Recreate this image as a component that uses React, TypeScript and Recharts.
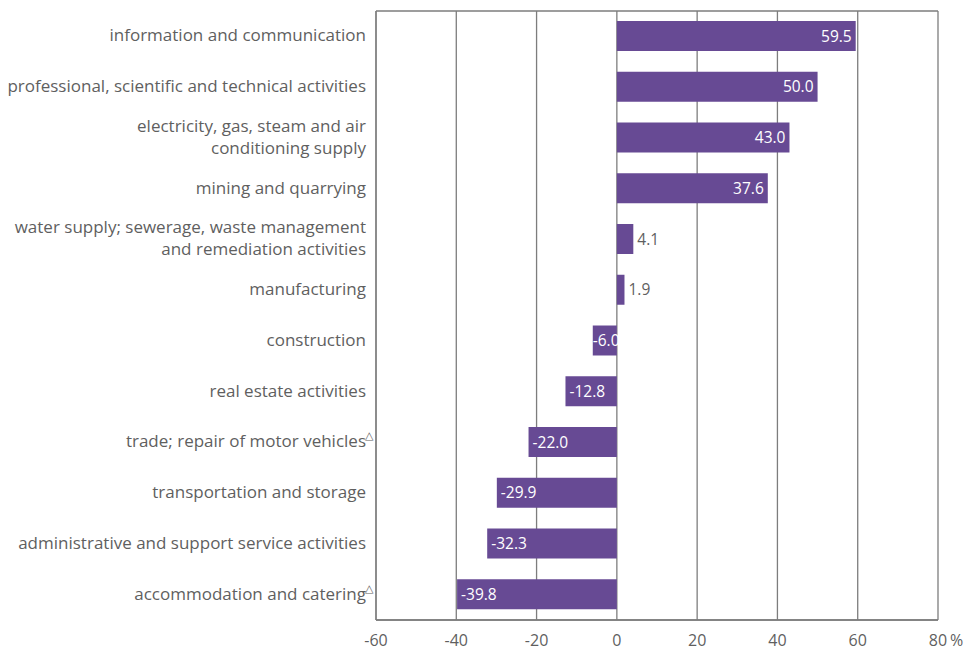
import React from 'react';
import {
  BarChart,
  Bar,
  XAxis,
  YAxis,
  CartesianGrid,
  LabelList,
} from 'recharts';

// categories top to bottom; "\n" breaks the line, trailing △ is a footnote mark
const categories = [
  'information and communication',
  'professional, scientific and technical activities',
  'electricity, gas, steam and air\nconditioning supply',
  'mining and quarrying',
  'water supply; sewerage, waste management\nand remediation activities',
  'manufacturing',
  'construction',
  'real estate activities',
  'trade; repair of motor vehicles△',
  'transportation and storage',
  'administrative and support service activities',
  'accommodation and catering△',
];

const values = [59.5, 50.0, 43.0, 37.6, 4.1, 1.9, -6.0, -12.8, -22.0, -29.9, -32.3, -39.8];

const xTicks = [-60, -40, -20, 0, 20, 40, 60, 80];

const data = categories.map((name, i) => ({ name, value: values[i] }));

const FONT = '"Open Sans", "DejaVu Sans", sans-serif';
const TEXT_GRAY = '#5f5f5f';
const BAR_COLOR = '#674a94';
const GRID = '#7d7d7d';

// eslint-disable-next-line @typescript-eslint/no-explicit-any
const CategoryTick = (props: any) => {
  const { x, y, payload } = props;
  const raw: string = payload.value;
  const lines = raw.split('\n');
  const lineH = 22;
  const startY = y - ((lines.length - 1) * lineH) / 2;
  const last = lines[lines.length - 1];
  return (
    <g>
      {lines.map((line, i) => {
        const txt = line.endsWith('△') ? line.slice(0, -1) : line;
        return (
          <text
            key={i}
            x={x - 2}
            y={startY + i * lineH}
            dy={5}
            textAnchor="end"
            fill={TEXT_GRAY}
            fontSize={17}
            fontFamily={FONT}
          >
            {txt}
          </text>
        );
      })}
      {last.endsWith('△') && (
        <text
          x={x - 3}
          y={startY + (lines.length - 1) * lineH - 3}
          textAnchor="start"
          fill={TEXT_GRAY}
          fontSize={11}
          fontFamily='"DejaVu Sans", sans-serif'
        >
          △
        </text>
      )}
    </g>
  );
};

// eslint-disable-next-line @typescript-eslint/no-explicit-any
const ValueTick = (props: any) => {
  const { x, y, payload } = props;
  const v = payload.value as number;
  return (
    <g>
      <text x={x} y={y + 18} textAnchor="middle" fill={TEXT_GRAY} fontSize={16} fontFamily={FONT}>
        {v}
      </text>
      {v === 80 && (
        <text x={x + 12} y={y + 18} textAnchor="start" fill={TEXT_GRAY} fontSize={16} fontFamily={FONT}>
          %
        </text>
      )}
    </g>
  );
};

// eslint-disable-next-line @typescript-eslint/no-explicit-any
const BarValueLabel = (props: any) => {
  const { x, y, width, height, value } = props;
  const left = Math.min(x, x + width);
  const right = Math.max(x, x + width);
  const cy = y + height / 2 + 5.5;
  const label = (value as number).toFixed(1);
  if (value >= 10) {
    return (
      <text x={right - 4} y={cy} textAnchor="end" fill="#fff" fontSize={15.5} fontFamily={FONT}>
        {label}
      </text>
    );
  }
  if (value >= 0) {
    return (
      <text x={right + 4} y={cy} textAnchor="start" fill={TEXT_GRAY} fontSize={15.5} fontFamily={FONT}>
        {label}
      </text>
    );
  }
  const pad = right - left < 30 ? 0 : 4;
  return (
    <text x={left + pad} y={cy} textAnchor="start" fill="#fff" fontSize={15.5} fontFamily={FONT}>
      {label}
    </text>
  );
};

export default function App() {
  return (
    <div style={{ position: 'absolute', left: 0, top: 0, background: '#fff' }}>
      <BarChart
        width={971}
        height={650}
        data={data}
        layout="vertical"
        margin={{ top: 11, right: 33, bottom: 0, left: 0 }}
        barSize={30}
      >
        <CartesianGrid
          stroke={GRID}
          strokeWidth={1.3}
          // eslint-disable-next-line @typescript-eslint/no-explicit-any
          horizontalCoordinatesGenerator={({ offset }: any) => [offset.top, offset.top + offset.height]}
        />
        <XAxis
          type="number"
          domain={[-60, 80]}
          ticks={xTicks}
          height={30}
          axisLine={{ stroke: GRID, strokeWidth: 1.3 }}
          tickLine={false}
          tick={<ValueTick />}
          interval={0}
        />
        <YAxis
          type="category"
          dataKey="name"
          width={376}
          axisLine={{ stroke: GRID, strokeWidth: 1.3 }}
          tickLine={false}
          tick={<CategoryTick />}
          interval={0}
        />
        <Bar dataKey="value" fill={BAR_COLOR} isAnimationActive={false}>
          <LabelList dataKey="value" content={<BarValueLabel />} />
        </Bar>
      </BarChart>
    </div>
  );
}
